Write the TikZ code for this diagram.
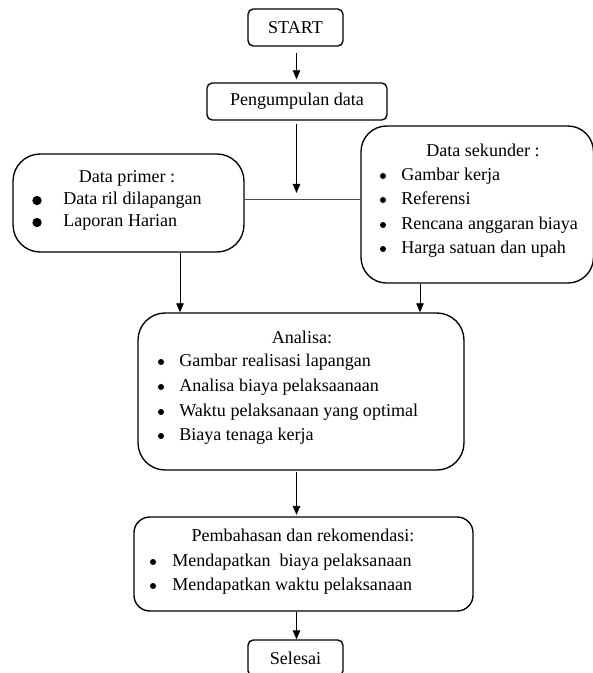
\documentclass[tikz,border=0pt]{standalone}
\usepackage{fontspec}
\setmainfont{Liberation Serif}
\usetikzlibrary{arrows.meta}

\begin{document}
\begin{tikzpicture}[x=0.6642pt, y=-0.6642pt, font=\fontsize{12}{14}\selectfont,
  box/.style={draw, line width=0.9pt, rounded corners=#1, inner sep=0},
  box/.default=3.5pt,
  item/.style={anchor=west, inner sep=0, text height=8pt, text depth=2.5pt},
  title/.style={inner sep=0, text height=8pt, text depth=2.5pt},
  dot/.style={circle, fill, inner sep=0, minimum size=4pt},
  bigdot/.style={circle, fill, inner sep=0, minimum size=6.2pt},
  arr/.style={-{Triangle[length=6pt,width=5pt]}, line width=0.6pt}]

\useasboundingbox (0,0) rectangle (593,673);

\coordinate (axis) at (296.5,0);
\coordinate (lft) at (180,0);
\coordinate (rgt) at (420,0);
\coordinate (junction) at (296.5,199);

\node[box, minimum width=63.1pt, minimum height=24.6pt] (start) at (295.5,27.5) {START};
\node[box, minimum width=119.6pt, minimum height=24.6pt] (kumpul) at (297,101.5) {Pengumpulan data};

\node[box=18pt, minimum width=153.4pt, minimum height=65.1pt] (primer) at (128.5,203) {};
\node[title] (primerT) at (127,178) {Data primer :};
\node[bigdot] (p1dot) at (37,200.5) {};
\node[item] (p1) at (63,200.5) {Data ril dilapangan};
\node[bigdot] (p2dot) at (37,222.5) {};
\node[item] (p2) at (63,222.5) {Laporan Harian};

\node[box=17pt, minimum width=154.4pt, minimum height=104.3pt] (sekunder) at (477.25,204.5) {};
\node[title] (sekunderT) at (483,152) {Data sekunder :};
\node[dot] (s1dot) at (383,176) {};
\node[item] (s1) at (401,176) {Gambar kerja};
\node[dot] (s2dot) at (383,200) {};
\node[item] (s2) at (401,200) {Referensi};
\node[dot] (s3dot) at (383,225) {};
\node[item] (s3) at (401,225) {Rencana anggaran biaya};
\node[dot] (s4dot) at (383,249) {};
\node[item] (s4) at (401,249) {Harga satuan dan upah};

\node[box=18pt, minimum width=216.5pt, minimum height=104.3pt] (analisa) at (301,391.5) {};
\node[title] (analisaT) at (302,339) {Analisa:};
\node[dot] (a1dot) at (161,362) {};
\node[item] (a1) at (179,362) {Gambar realisasi lapangan};
\node[dot] (a2dot) at (161,387) {};
\node[item] (a2) at (179,387) {Analisa biaya pelaksaanaan};
\node[dot] (a3dot) at (161,412) {};
\node[item] (a3) at (179,412) {Waktu pelaksanaan yang optimal};
\node[dot] (a4dot) at (161,436) {};
\node[item] (a4) at (179,436) {Biaya tenaga kerja};

\node[box=10.5pt, minimum width=225.2pt, minimum height=62.4pt] (bahas) at (303.5,564) {};
\node[title] (bahasT) at (303,537) {Pembahasan dan rekomendasi:};
\node[dot] (b1dot) at (153,562) {};
\node[item] (b1) at (172,562) {Mendapatkan\ \ biaya pelaksanaan};
\node[dot] (b2dot) at (153,586) {};
\node[item] (b2) at (172,586) {Mendapatkan waktu pelaksanaan};

\node[box, minimum width=63.1pt, minimum height=23.9pt] (selesai) at (295.5,658) {Selesai};

\draw[arr, shorten <=4pt, shorten >=2pt] (start.south -| axis) -- (kumpul.north -| axis);
\draw[arr, shorten <=2pt, shorten >=4pt] (kumpul.south -| axis) -- (junction);
\draw[black!70, line width=0.5pt] (primer.east |- junction) -- (sekunder.west |- junction);

\draw[arr] (primer.south -| lft) -- (analisa.north -| lft);
\draw[arr] (sekunder.south -| rgt) -- (analisa.north -| rgt);

\draw[arr, shorten <=1pt, shorten >=1pt] (analisa.south -| axis) -- (bahas.north -| axis);
\draw[arr] (bahas.south -| axis) -- (selesai.north -| axis);

\end{tikzpicture}
\end{document}
